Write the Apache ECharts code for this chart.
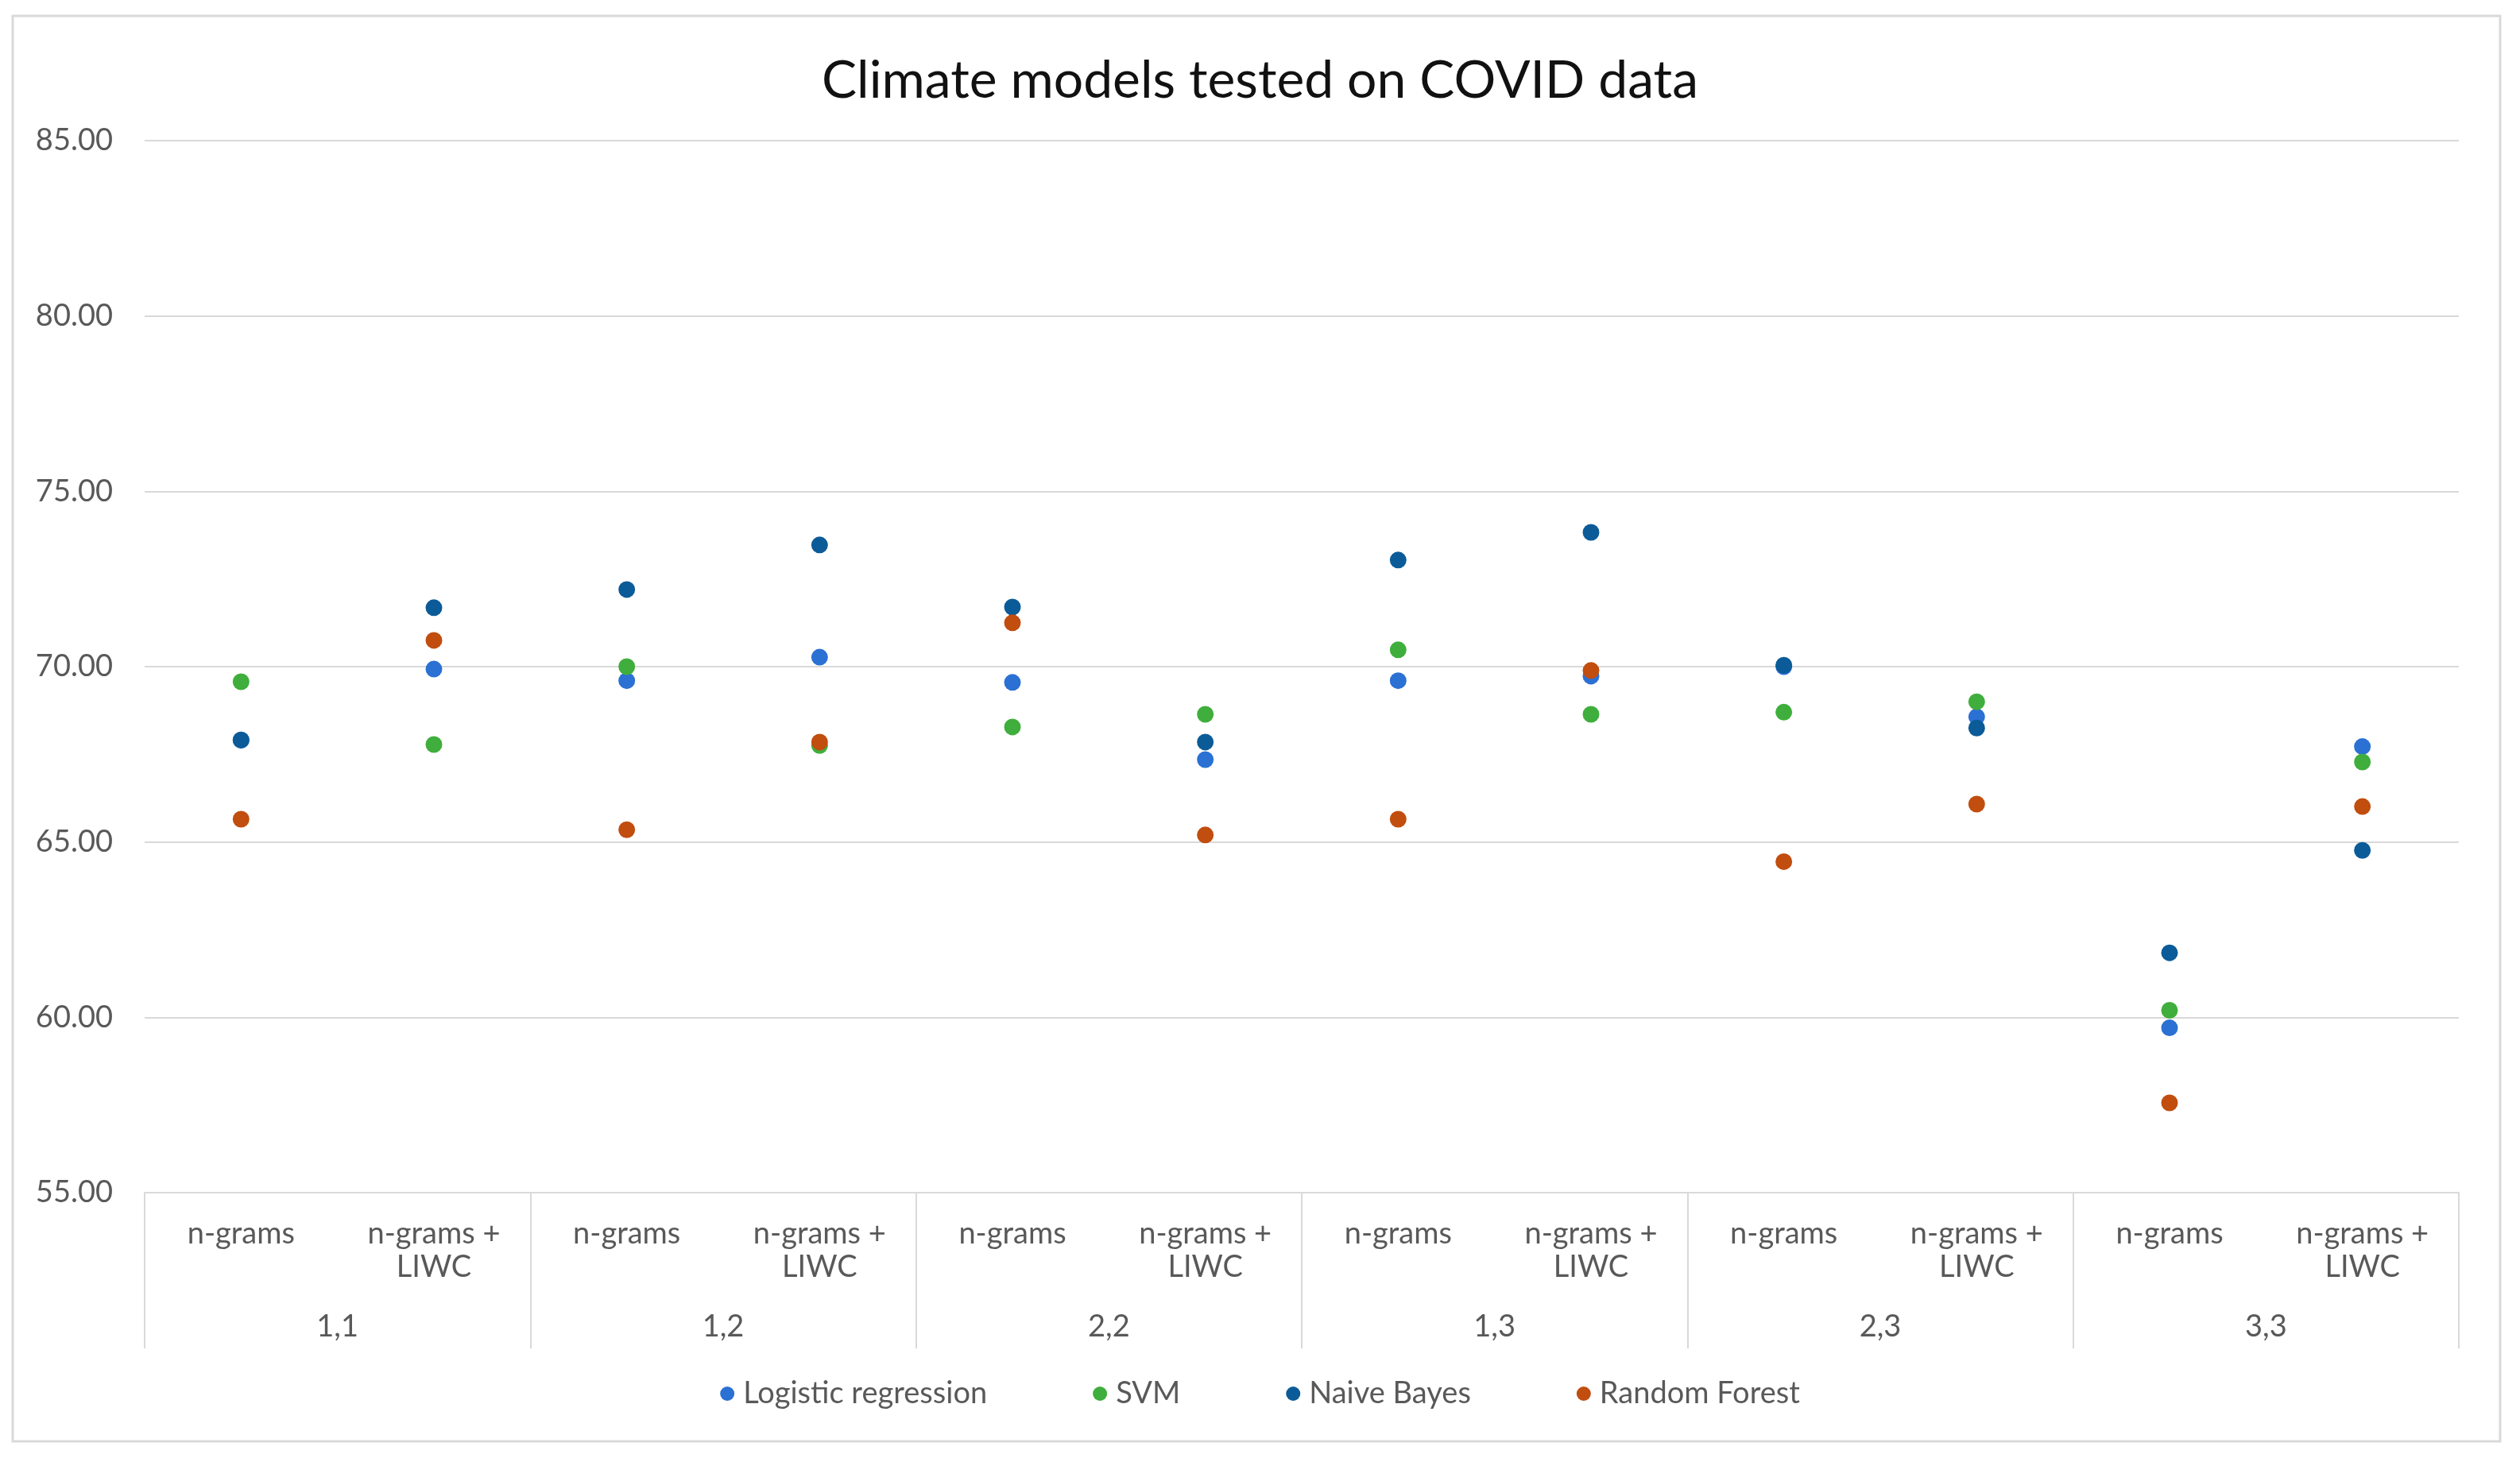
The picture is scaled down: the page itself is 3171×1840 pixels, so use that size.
<!DOCTYPE html>
<html>
<head>
<meta charset="utf-8">
<title>Climate models tested on COVID data</title>
<script src="https://cdn.jsdelivr.net/npm/echarts@6/dist/echarts.min.js"></script>
<style>
  html, body { margin: 0; padding: 0; background: #fff; }
  #chart { width: 3171px; height: 1840px; }
</style>
</head>
<body>
<div id="chart"></div>
<script>
// n-gram range groups and the feature set inside each group
const groups = ["1,1", "1,2", "2,2", "1,3", "2,3", "3,3"];
const features = ["n-grams", "n-grams +\nLIWC"];
const categories = [];
groups.forEach(() => features.forEach(f => categories.push(f)));

const seriesNames = ["Logistic regression", "SVM", "Naive Bayes", "Random Forest"];
const colors = ["#2b70d3", "#3fae3c", "#0b5b98", "#c14d0e"];

// accuracy
const logisticRegression = [67.9, 69.93, 69.6, 70.27, 69.55, 67.35, 69.6, 69.73, 70.0, 68.57, 59.7, 67.72];
const svm = [69.57, 67.78, 70.0, 67.75, 68.28, 68.64, 70.48, 68.64, 68.7, 69.0, 60.2, 67.28];
const naiveBayes = [67.91, 71.68, 72.2, 73.47, 71.7, 67.85, 73.04, 73.83, 70.04, 68.25, 61.84, 64.76];
const randomForest = [65.65, 70.75, 65.35, 67.85, 71.25, 65.2, 65.65, 69.89, 64.44, 66.08, 57.56, 66.01];

const yMin = 55, yMax = 85, yStep = 5;

const chart = echarts.init(document.getElementById("chart"));
const font = "Lato, 'Open Sans', sans-serif";

function makeSeries(name, values, idx) {
  return {
    name: name,
    type: "scatter",
    xAxisIndex: 0,
    symbol: "circle",
    symbolSize: 21,
    itemStyle: { color: colors[idx], opacity: 1 },
    data: values
  };
}

chart.setOption({
  backgroundColor: "#fff",
  animation: false,
  textStyle: { fontFamily: font },
  graphic: [{
    type: "rect",
    shape: { x: 16, y: 20, width: 3130, height: 1794 },
    style: { fill: "none", stroke: "#d9d9d9", lineWidth: 3 },
    silent: true
  }],
  title: {
    text: "Climate models tested on COVID data",
    left: "center",
    top: 64,
    textStyle: { fontFamily: font, fontSize: 66, fontWeight: "normal", color: "#111" }
  },
  legend: {
    data: seriesNames,
    left: "center",
    top: 1730,
    icon: "circle",
    itemWidth: 18,
    itemHeight: 18,
    itemGap: 133,
    textStyle: { fontFamily: font, fontSize: 38, color: "#595959", padding: [0, 0, 0, 6] }
  },
  grid: { left: 182, right: 77, top: 177, bottom: 339 },
  xAxis: [
    {
      type: "category",
      data: categories,
      boundaryGap: true,
      axisLine: { show: false },
      axisTick: { show: false },
      splitLine: { show: false },
      axisLabel: {
        interval: 0,
        margin: 31,
        fontFamily: font,
        fontSize: 38,
        lineHeight: 42,
        color: "#595959",
        align: "center"
      }
    },
    {
      type: "category",
      data: groups,
      position: "bottom",
      boundaryGap: true,
      axisLine: { show: true, lineStyle: { color: "#d9d9d9", width: 2 } },
      axisTick: { show: true, interval: 0, length: 196, lineStyle: { color: "#d9d9d9", width: 2 } },
      splitLine: { show: false },
      axisLabel: {
        interval: 0,
        margin: 150,
        fontFamily: font,
        fontSize: 38,
        color: "#595959"
      }
    }
  ],
  yAxis: {
    type: "value",
    min: yMin,
    max: yMax,
    interval: yStep,
    axisLine: { show: false },
    axisTick: { show: false },
    splitLine: { lineStyle: { color: "#d9d9d9", width: 2 } },
    axisLabel: {
      margin: 40,
      fontFamily: font,
      fontSize: 38,
      color: "#595959",
      formatter: v => v.toFixed(2)
    }
  },
  series: [
    makeSeries(seriesNames[0], logisticRegression, 0),
    makeSeries(seriesNames[1], svm, 1),
    makeSeries(seriesNames[2], naiveBayes, 2),
    makeSeries(seriesNames[3], randomForest, 3)
  ]
});
</script>
</body>
</html>
